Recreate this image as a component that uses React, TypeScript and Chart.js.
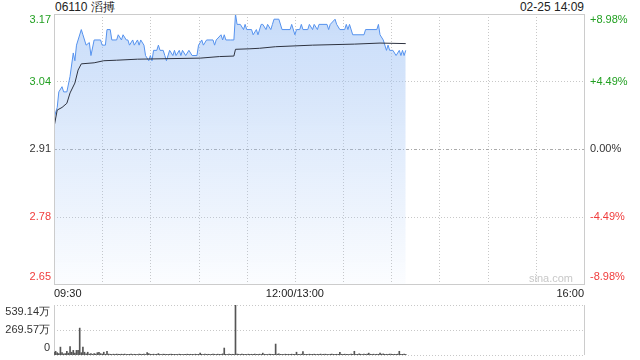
import React, { useEffect, useRef } from 'react';
import { Chart, registerables } from 'chart.js';

Chart.register(...registerables);

const FONT = "'Liberation Sans', Arial, sans-serif";
const GREEN = '#22a022';
const RED = '#f03c3c';
const DARK = '#333333';

const TITLE = '06110 滔搏';
const STAMP = '02-25 14:09';

// axis ticks
const priceTicks = [3.17, 3.04, 2.91, 2.78, 2.65];
const priceTickLabels = ['3.17', '3.04', '2.91', '2.78', '2.65'];
const pctTickLabels = ['+8.98%', '+4.49%', '0.00%', '-4.49%', '-8.98%'];
const tickColors = [GREEN, GREEN, DARK, RED, RED];
const timeTicks = [0, 150, 330];
const timeLabels = ['09:30', '12:00/13:00', '16:00'];
const gridMinutes = [30, 60, 90, 120, 150, 180, 210, 240, 270, 300];
const volTicks = [539.14, 269.57, 0];
const volTickLabels = ['539.14万', '269.57万', '0'];

// price line (minute from 09:30, price)
const priceMinutes = [
  0, 2, 3, 5, 6, 8, 10, 12, 13, 14, 17, 18, 20, 22, 23, 25, 29, 30, 32, 33,
  35, 36, 39, 40, 42, 43, 45, 46, 47, 49, 50, 52, 53, 54, 56, 57, 59, 60, 61, 62,
  64, 65, 66, 68, 69, 70, 72, 74, 75, 76, 78, 79, 80, 82, 84, 86, 89, 90, 92, 93,
  95, 99, 100, 101, 104, 105, 106, 107, 110, 112, 113, 114, 116, 118, 119, 120, 123, 124, 126, 127,
  129, 130, 132, 133, 135, 136, 137, 140, 142, 147, 148, 150, 151, 153, 154, 155, 158, 159, 161, 162,
  164, 165, 170, 171, 172, 175, 176, 178, 181, 182, 183, 184, 186, 193, 194, 201, 202, 203, 205, 207,
  208, 209, 211, 213, 215, 216, 217, 218, 219,
];
const prices = [
  2.97, 2.99, 3.02, 3.03, 3.02, 3.02, 3.05, 3.095, 3.08, 3.11, 3.14, 3.13, 3.11, 3.115, 3.09, 3.12, 3.12, 3.11, 3.11, 3.14,
  3.14, 3.12, 3.12, 3.13, 3.12, 3.13, 3.12, 3.12, 3.11, 3.12, 3.11, 3.12, 3.11, 3.12, 3.11, 3.09, 3.08, 3.09, 3.08, 3.10,
  3.10, 3.11, 3.10, 3.10, 3.09, 3.08, 3.10, 3.09, 3.10, 3.09, 3.10, 3.09, 3.10, 3.09, 3.10, 3.09, 3.09, 3.11, 3.12, 3.11,
  3.12, 3.12, 3.11, 3.12, 3.13, 3.12, 3.13, 3.12, 3.12, 3.12, 3.17, 3.15, 3.15, 3.14, 3.15, 3.14, 3.14, 3.13, 3.14, 3.13,
  3.15, 3.15, 3.14, 3.15, 3.14, 3.15, 3.16, 3.16, 3.14, 3.14, 3.15, 3.13, 3.14, 3.14, 3.15, 3.14, 3.14, 3.15, 3.14, 3.15,
  3.14, 3.15, 3.15, 3.14, 3.15, 3.16, 3.15, 3.14, 3.14, 3.15, 3.14, 3.15, 3.13, 3.13, 3.14, 3.14, 3.15, 3.13, 3.12, 3.10,
  3.11, 3.10, 3.10, 3.09, 3.10, 3.09, 3.10, 3.09, 3.10,
];

// average price line
const avgMinutes = [0, 2, 5, 8, 10, 13, 15, 17, 25, 31, 39, 52, 91, 103, 112, 113, 122, 128, 138, 161, 187, 203, 219];
const avgPrices = [
  2.952, 2.985, 2.99, 2.998, 3.018, 3.037, 3.062, 3.074, 3.076, 3.08, 3.081, 3.083, 3.085, 3.088, 3.089, 3.102,
  3.103, 3.104, 3.107, 3.11, 3.112, 3.114, 3.113,
];

// volume per minute (万)
const volumes = [
  30, 40, 25, 15, 85, 25, 12, 15, 40, 20,
  92, 30, 50, 20, 50, 50, 290, 25, 85, 30,
  12, 30, 10, 15, 8, 15, 10, 25, 30, 15,
  10, 30, 8, 40, 10, 8, 6, 9, 7, 10,
  8, 6, 9, 7, 10, 6, 8, 7, 9, 6,
  8, 7, 6, 9, 8, 7, 10, 6, 25, 15,
  8, 7, 9, 6, 8, 15, 7, 6, 9, 8,
  7, 6, 8, 9, 6, 7, 8, 6, 9, 7,
  6, 8, 7, 9, 6, 8, 7, 6, 9, 8,
  7, 20, 8, 6, 9, 7, 8, 6, 7, 9,
  8, 6, 9, 7, 8, 12, 75, 8, 6, 9,
  7, 8, 6, 539.14, 10, 8, 6, 9, 7, 8,
  6, 9, 7, 8, 6, 10, 7, 8, 9, 6,
  20, 8, 7, 6, 9, 8, 7, 6, 118, 9,
  12, 7, 8, 6, 9, 7, 8, 6, 9, 7,
  8, 30, 7, 6, 9, 36, 8, 7, 6, 9,
  8, 7, 9, 6, 8, 7, 10, 6, 8, 9,
  7, 6, 8, 9, 7, 6, 8, 7, 30, 8,
  6, 9, 7, 8, 6, 9, 7, 40, 8, 7,
  12, 8, 6, 9, 7, 10, 20, 8, 7, 9,
  6, 8, 7, 20, 9, 12, 7, 8, 6, 10,
  9, 7, 8, 6, 9, 40, 8, 7, 9, 6,
];

function hLine(ctx: CanvasRenderingContext2D, x1: number, x2: number, y: number) {
  ctx.beginPath();
  ctx.moveTo(x1, y);
  ctx.lineTo(x2, y);
  ctx.stroke();
}
function vLine(ctx: CanvasRenderingContext2D, x: number, y1: number, y2: number) {
  ctx.beginPath();
  ctx.moveTo(x, y1);
  ctx.lineTo(x, y2);
  ctx.stroke();
}

const priceDecor = {
  id: 'priceDecor',
  beforeDatasetsDraw(chart: any) {
    const { ctx, chartArea: a, scales } = chart;
    ctx.save();
    ctx.lineWidth = 1;
    ctx.strokeStyle = '#c8c8c8';
    ctx.setLineDash([1, 2]);
    for (const m of gridMinutes) {
      const x = Math.round(scales.x.getPixelForValue(m)) + 0.5;
      vLine(ctx, x, a.top, a.bottom);
    }
    priceTicks.forEach((v, i) => {
      if (i === 0 || i === priceTicks.length - 1) return;
      const y = Math.round(scales.y.getPixelForValue(v)) + 0.5;
      if (i === 2) {
        ctx.strokeStyle = '#aaaaaa';
        ctx.setLineDash([3, 2, 1, 2]);
      } else {
        ctx.strokeStyle = '#c8c8c8';
        ctx.setLineDash([1, 2]);
      }
      hLine(ctx, a.left, a.right, y);
    });
    ctx.setLineDash([]);
    ctx.fillStyle = '#c8c8c8';
    ctx.font = `11px ${FONT}`;
    ctx.textAlign = 'right';
    ctx.textBaseline = 'middle';
    ctx.fillText('sina.com', a.right - 11, a.bottom - 5);
    ctx.restore();
  },
  afterDatasetsDraw(chart: any) {
    const { ctx, chartArea: a } = chart;
    ctx.save();
    ctx.lineWidth = 1;
    ctx.strokeStyle = '#cccccc';
    ctx.setLineDash([]);
    const l = Math.round(a.left) + 0.5;
    const r = Math.round(a.right) + 0.5;
    const t = Math.round(a.top) + 0.5;
    const b = Math.round(a.bottom) + 0.5;
    ctx.strokeRect(l, t, r - l, b - t);
    ctx.restore();
  },
  afterDraw(chart: any) {
    const { ctx, chartArea: a, scales } = chart;
    ctx.save();
    ctx.font = `11px ${FONT}`;
    ctx.textBaseline = 'middle';
    const n = priceTicks.length;
    priceTicks.forEach((v, i) => {
      let y = scales.y.getPixelForValue(v);
      if (i === 0) y += 6;
      if (i === n - 1) y -= 7;
      ctx.fillStyle = tickColors[i];
      ctx.textAlign = 'right';
      ctx.fillText(priceTickLabels[i], a.left - 3, y);
      ctx.textAlign = 'left';
      ctx.fillText(pctTickLabels[i], a.right + 6, y);
    });
    ctx.restore();
  },
};

const volDecor = {
  id: 'volDecor',
  beforeDatasetsDraw(chart: any) {
    const { ctx, chartArea: a, scales } = chart;
    ctx.save();
    ctx.lineWidth = 1;
    ctx.strokeStyle = '#c8c8c8';
    ctx.setLineDash([1, 2]);
    for (const v of volTicks) {
      const y = Math.round(scales.y.getPixelForValue(v)) + 0.5;
      hLine(ctx, a.left, a.right, y);
    }
    ctx.setLineDash([]);
    ctx.strokeStyle = '#cccccc';
    vLine(ctx, Math.round(a.left) + 0.5, a.top, a.bottom);
    vLine(ctx, Math.round(a.right) + 0.5, a.top, a.bottom);
    ctx.restore();
  },
  afterDraw(chart: any) {
    const { ctx, chartArea: a, scales } = chart;
    ctx.save();
    ctx.font = `11px ${FONT}`;
    ctx.textBaseline = 'middle';
    ctx.textAlign = 'right';
    ctx.fillStyle = DARK;
    const n = volTicks.length;
    volTicks.forEach((v, i) => {
      let y = scales.y.getPixelForValue(v);
      if (i === 0) y += 7;
      if (i === n - 1) y -= 7;
      ctx.fillText(volTickLabels[i], a.left - 4, y);
    });
    ctx.restore();
  },
};

export default function App() {
  const priceRef = useRef<HTMLCanvasElement>(null);
  const volRef = useRef<HTMLCanvasElement>(null);

  useEffect(() => {
    const priceData = priceMinutes.map((m, i) => ({ x: m, y: prices[i] }));
    const avgData = avgMinutes.map((m, i) => ({ x: m, y: avgPrices[i] }));
    const volData = volumes.map((v, i) => ({ x: i, y: v }));

    const priceChart = new Chart(priceRef.current!, {
      type: 'line',
      data: {
        datasets: [
          {
            data: avgData,
            borderColor: '#2e3340',
            borderWidth: 1,
            pointRadius: 0,
            fill: false,
            tension: 0,
            order: 0,
          },
          {
            data: priceData,
            borderColor: '#5592ee',
            borderWidth: 1,
            pointRadius: 0,
            tension: 0,
            fill: 'start',
            order: 1,
            backgroundColor: (c: any) => {
              const a = c.chart.chartArea;
              if (!a) return 'rgba(160,195,245,0.3)';
              const g = c.chart.ctx.createLinearGradient(0, a.top, 0, a.bottom);
              g.addColorStop(0, 'rgba(160,195,245,0.58)');
              g.addColorStop(1, 'rgba(160,195,245,0.04)');
              return g;
            },
          },
        ],
      },
      options: {
        responsive: false,
        animation: false,
        events: [],
        layout: { padding: { top: 14, left: 0, right: 0, bottom: 0 } },
        plugins: { legend: { display: false }, tooltip: { enabled: false }, title: { display: false } },
        scales: {
          x: {
            type: 'linear',
            min: 0,
            max: 330,
            grid: { display: false, drawTicks: false },
            border: { display: false },
            afterBuildTicks: (s: any) => {
              s.ticks = timeTicks.map((v) => ({ value: v }));
            },
            afterFit: (s: any) => {
              s.height = 16;
            },
            ticks: {
              autoSkip: false,
              maxRotation: 0,
              align: 'inner',
              padding: 3,
              color: '#222',
              font: { family: FONT, size: 11 },
              callback: (v: any) => {
                const i = timeTicks.indexOf(Number(v));
                return i >= 0 ? timeLabels[i] : '';
              },
            },
          },
          y: {
            type: 'linear',
            position: 'left',
            min: 2.65,
            max: 3.17,
            grid: { display: false, drawTicks: false },
            border: { display: false },
            ticks: { display: false },
            afterFit: (s: any) => {
              s.width = 54;
            },
          },
          yR: {
            type: 'linear',
            position: 'right',
            min: 2.65,
            max: 3.17,
            grid: { display: false, drawTicks: false },
            border: { display: false },
            ticks: { display: false },
            afterFit: (s: any) => {
              s.width = 56;
            },
          },
        },
      } as any,
      plugins: [priceDecor],
    });

    const volChart = new Chart(volRef.current!, {
      type: 'bar',
      data: {
        datasets: [
          {
            data: volData,
            backgroundColor: '#555555',
            borderWidth: 0,
            barThickness: 1,
          } as any,
        ],
      },
      options: {
        responsive: false,
        animation: false,
        events: [],
        layout: { padding: { top: 5, left: 0, right: 56, bottom: 5 } },
        plugins: { legend: { display: false }, tooltip: { enabled: false } },
        scales: {
          x: {
            type: 'linear',
            min: 0,
            max: 330,
            offset: false,
            display: false,
          },
          y: {
            type: 'linear',
            min: 0,
            max: 539.14,
            grid: { display: false, drawTicks: false },
            border: { display: false },
            ticks: { display: false },
            afterFit: (s: any) => {
              s.width = 54;
            },
          },
        },
      } as any,
      plugins: [volDecor],
    });

    return () => {
      priceChart.destroy();
      volChart.destroy();
    };
  }, []);

  return (
    <div style={{ position: 'absolute', left: 0, top: 0, width: 640, height: 360, background: '#fff', overflow: 'hidden' }}>
      <div style={{ position: 'absolute', left: 55, top: 0, fontFamily: FONT, fontSize: 12, lineHeight: '15px', color: '#222', whiteSpace: 'nowrap' }}>
        {TITLE}
      </div>
      <div style={{ position: 'absolute', right: 640 - 584, top: 0, fontFamily: FONT, fontSize: 12, lineHeight: '15px', color: '#222', whiteSpace: 'nowrap' }}>
        {STAMP}
      </div>
      <canvas ref={priceRef} width={640} height={300} style={{ position: 'absolute', left: 0, top: 0, width: 640, height: 300 }} />
      <canvas ref={volRef} width={640} height={60} style={{ position: 'absolute', left: 0, top: 300, width: 640, height: 60 }} />
    </div>
  );
}
